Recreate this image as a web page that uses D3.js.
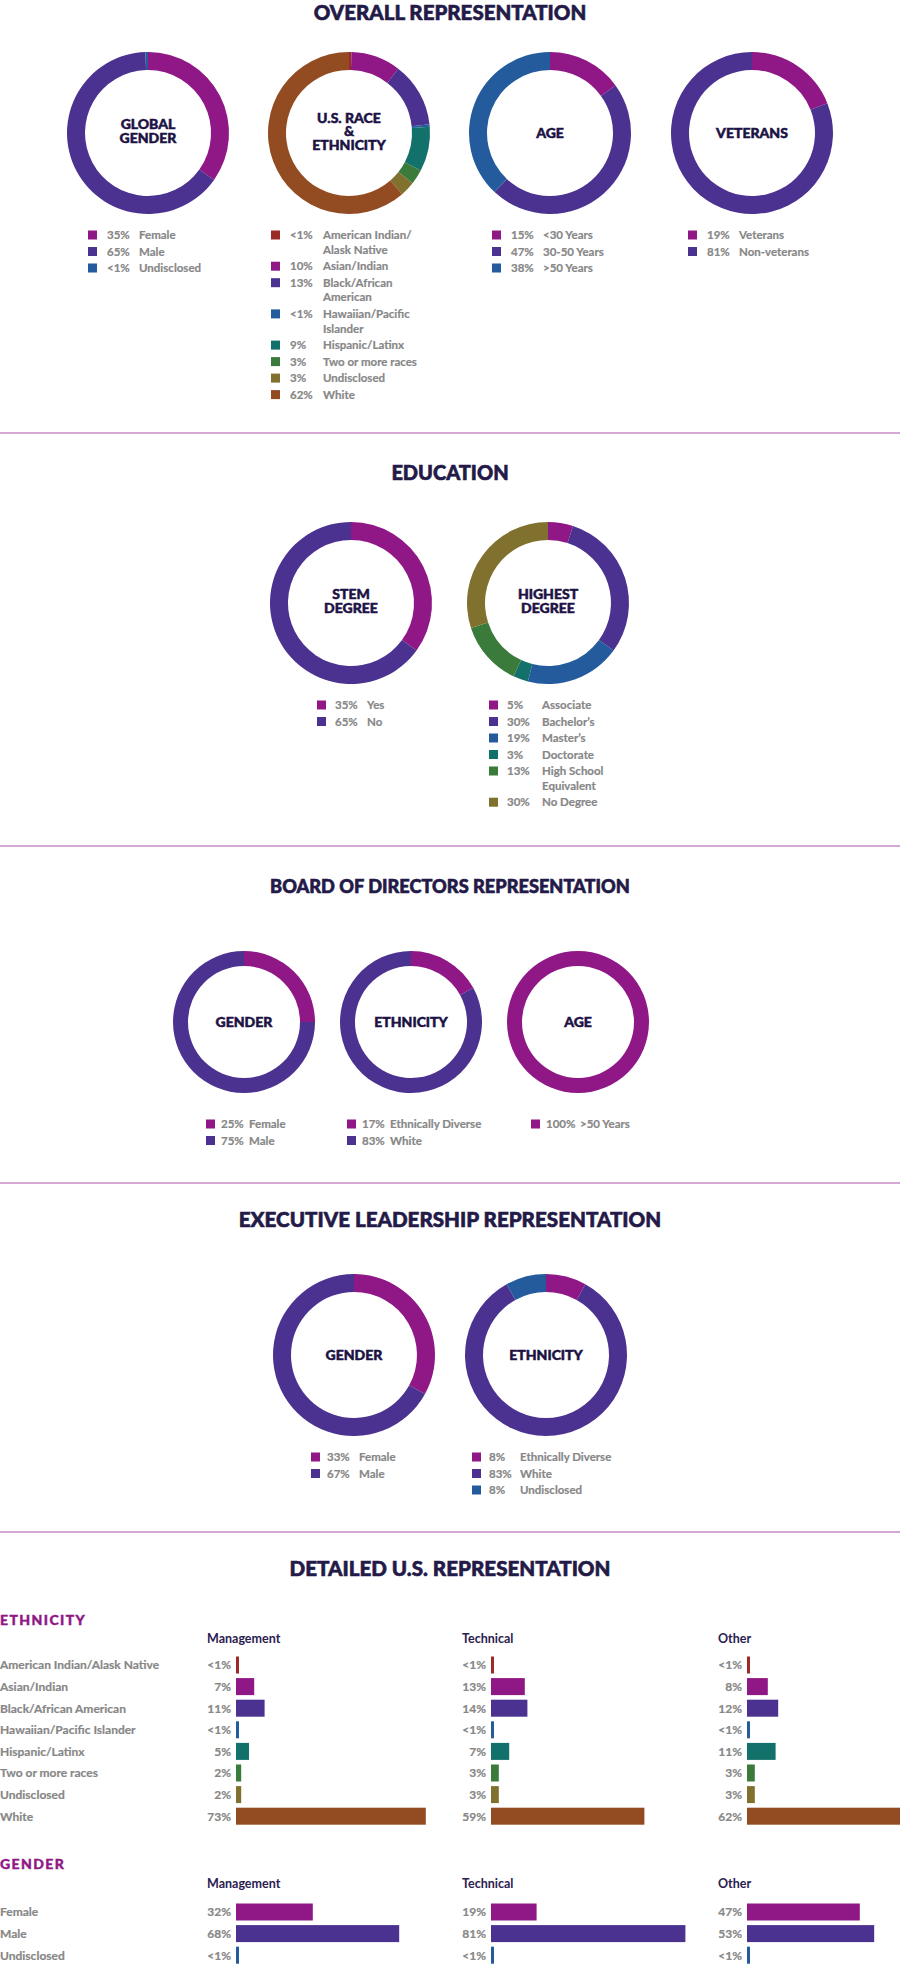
<!DOCTYPE html>
<html>
<head>
<meta charset="utf-8">
<script src="https://cdn.jsdelivr.net/npm/d3@7"></script>
<style>
  body { margin: 0; background: #fff; }
  svg { display: block; font-family: Lato, "Open Sans", sans-serif; }
</style>
</head>
<body>
<svg id="chart" width="900" height="1965"></svg>
<script>
// ---- data ----
var genderCats = ["Female", "Male", "Undisclosed"];
var genderVals = [35, 65, 0.5];

var raceCats = ["American Indian/\nAlask Native", "Asian/Indian", "Black/African\nAmerican", "Hawaiian/Pacific\nIslander",
  "Hispanic/Latinx", "Two or more races", "Undisclosed", "White"];
var raceVals = [0.5, 10, 13, 0.5, 9, 3, 3, 62];

var ageCats = ["<30 Years", "30-50 Years", ">50 Years"];
var ageVals = [15, 47, 38];

var vetCats = ["Veterans", "Non-veterans"];
var vetVals = [19, 81];

var stemCats = ["Yes", "No"];
var stemVals = [35, 65];

var degreeCats = ["Associate", "Bachelor\u2019s", "Master\u2019s", "Doctorate", "High School\nEquivalent", "No Degree"];
var degreeVals = [5, 30, 19, 3, 13, 30];

var boardGenderCats = ["Female", "Male"];
var boardGenderVals = [25, 75];
var boardEthCats = ["Ethnically Diverse", "White"];
var boardEthVals = [17, 83];
var boardAgeCats = [">50 Years"];
var boardAgeVals = [100];

var execGenderCats = ["Female", "Male"];
var execGenderVals = [33, 67];
var execEthCats = ["Ethnically Diverse", "White", "Undisclosed"];
var execEthVals = [8, 83, 8];

var levels = ["Management", "Technical", "Other"];
var ethRows = ["American Indian/Alask Native", "Asian/Indian", "Black/African American", "Hawaiian/Pacific Islander",
  "Hispanic/Latinx", "Two or more races", "Undisclosed", "White"];
var ethMgmt = [0.5, 7, 11, 0.5, 5, 2, 2, 73];
var ethTech = [0.5, 13, 14, 0.5, 7, 3, 3, 59];
var ethOther = [0.5, 8, 12, 0.5, 11, 3, 3, 62];

var genRows = ["Female", "Male", "Undisclosed"];
var genMgmt = [32, 68, 0.5];
var genTech = [19, 81, 0.5];
var genOther = [47, 53, 0.5];

// ---- colours ----
var C = {
  pink: "#8f1786", purple: "#4b3290", blue: "#245b9c", teal: "#12716a",
  green: "#3a7a3b", olive: "#81712f", brown: "#934b22", red: "#9a2b27"
};
var raceColors = [C.red, C.pink, C.purple, C.blue, C.teal, C.green, C.olive, C.brown];
var titleColor = "#231a48";
var labelColor = "#1c1244";
var grey = "#878787";

var svg = d3.select("#chart");

function fmt(v) { return v < 1 ? "<1%" : v + "%"; }

function sectionTitle(text, y, size) {
  svg.append("text")
    .attr("x", 450).attr("y", y)
    .attr("text-anchor", "middle")
    .style("font-size", size + "px").style("font-weight", 900)
    .style("fill", titleColor)
    .style("stroke", titleColor).style("stroke-width", 0.6)
    .text(text);
}

function separator(y) {
  svg.append("line")
    .attr("x1", 0).attr("x2", 900).attr("y1", y).attr("y2", y)
    .style("stroke", "#c98ac3").style("stroke-width", 1.3);
}

function donut(cx, cy, rOut, rIn, title, cats, vals, colors, lg) {
  var g = svg.append("g").attr("transform", "translate(" + cx + "," + cy + ")");
  var data = cats.map(function (c, i) { return { cat: c, v: vals[i], color: colors[i] }; });
  var pie = d3.pie().sort(null).value(function (d) { return d.v; });
  var arc = d3.arc().innerRadius(rIn).outerRadius(rOut);

  g.selectAll("path")
    .data(pie(data))
    .enter()
    .append("path")
    .attr("d", arc)
    .style("fill", function (d) { return d.data.color; });

  var lines = title.split("\n");
  var lh = 13.5;
  var t = g.append("text")
    .attr("text-anchor", "middle")
    .style("font-size", "14px").style("font-weight", 900)
    .style("fill", labelColor)
    .style("stroke", labelColor).style("stroke-width", 0.5);
  lines.forEach(function (l, i) {
    t.append("tspan")
      .attr("x", 0)
      .attr("y", (i - (lines.length - 1) / 2) * lh - (lines.length > 1 ? 2 : 0) + 5)
      .text(l);
  });

  // legend
  var y = lg.y;
  data.forEach(function (d) {
    svg.append("rect")
      .attr("x", lg.sq).attr("y", y - 4.5)
      .attr("width", 9).attr("height", 9)
      .style("fill", d.color);
    svg.append("text")
      .attr("x", lg.pct).attr("y", y + 4)
      .style("font-size", "11.5px").style("font-weight", 700).style("fill", grey)
      .style("stroke", grey).style("stroke-width", 0.2)
      .text(fmt(d.v));
    var ls = d.cat.split("\n");
    var lt = svg.append("text")
      .style("font-size", "11.5px").style("font-weight", 700).style("fill", grey)
      .style("stroke", grey).style("stroke-width", 0.2);
    ls.forEach(function (l, i) {
      lt.append("tspan").attr("x", lg.lab).attr("y", y + 4 + i * 14.7).text(l);
    });
    y += 16.5 + (ls.length - 1) * 14.7;
  });
}

// ---- OVERALL ----
sectionTitle("OVERALL REPRESENTATION", 20, 20.5);
donut(148, 133, 81, 63, "GLOBAL\nGENDER", genderCats, genderVals, [C.pink, C.purple, C.blue], { sq: 88, pct: 107, lab: 139, y: 235 });
donut(349, 133, 81, 63, "U.S. RACE\n&\nETHNICITY", raceCats, raceVals, raceColors, { sq: 271, pct: 290, lab: 323, y: 235 });
donut(550, 133, 81, 63, "AGE", ageCats, ageVals, [C.pink, C.purple, C.blue], { sq: 492, pct: 511, lab: 543, y: 235 });
donut(752, 133, 81, 63, "VETERANS", vetCats, vetVals, [C.pink, C.purple], { sq: 688, pct: 707, lab: 739, y: 235 });
separator(433);

// ---- EDUCATION ----
sectionTitle("EDUCATION", 480, 20);
donut(351, 603, 81, 63, "STEM\nDEGREE", stemCats, stemVals, [C.pink, C.purple], { sq: 317, pct: 335, lab: 367, y: 705 });
donut(548, 603, 81, 63, "HIGHEST\nDEGREE", degreeCats, degreeVals, [C.pink, C.purple, C.blue, C.teal, C.green, C.olive], { sq: 489, pct: 507, lab: 542, y: 705 });
separator(846);

// ---- BOARD ----
sectionTitle("BOARD OF DIRECTORS REPRESENTATION", 893, 18.2);
donut(244, 1022, 71, 56, "GENDER", boardGenderCats, boardGenderVals, [C.pink, C.purple], { sq: 206, pct: 221, lab: 249, y: 1124 });
donut(411, 1022, 71, 56, "ETHNICITY", boardEthCats, boardEthVals, [C.pink, C.purple], { sq: 347, pct: 362, lab: 390, y: 1124 });
donut(578, 1022, 71, 56, "AGE", boardAgeCats, boardAgeVals, [C.pink], { sq: 531, pct: 546, lab: 580, y: 1124 });
separator(1183);

// ---- EXECUTIVE ----
sectionTitle("EXECUTIVE LEADERSHIP REPRESENTATION", 1227, 20.6);
donut(354, 1355, 81, 63, "GENDER", execGenderCats, execGenderVals, [C.pink, C.purple], { sq: 311, pct: 327, lab: 359, y: 1457 });
donut(546, 1355, 81, 63, "ETHNICITY", execEthCats, execEthVals, [C.pink, C.purple, C.blue], { sq: 472, pct: 489, lab: 520, y: 1457 });
separator(1532);

// ---- DETAILED ----
sectionTitle("DETAILED U.S. REPRESENTATION", 1576, 20.6);

var colX = [236, 491, 747];   // bar start of each column
var rowH = 21.6, barH = 17;

function barGroup(name, nameY, headY, rowY0, rows, cols, colors, pxPerPct) {
  svg.append("text")
    .attr("x", 0).attr("y", nameY)
    .style("font-size", "14px").style("font-weight", 900)
    .style("letter-spacing", "1.4px")
    .style("fill", C.pink)
    .style("stroke", C.pink).style("stroke-width", 0.4)
    .text(name);

  var y = d3.scaleBand().domain(rows).range([rowY0, rowY0 + rows.length * rowH]);
  var x = d3.scaleLinear().domain([0, 100]).range([0, 100 * pxPerPct]);

  svg.append("g").selectAll("text")
    .data(rows).enter().append("text")
    .attr("x", 0)
    .attr("y", function (d) { return y(d) + y.bandwidth() / 2 + 4.3; })
    .style("font-size", "12px").style("font-weight", 700).style("fill", grey)
    .style("stroke", grey).style("stroke-width", 0.2)
    .text(function (d) { return d; });

  cols.forEach(function (vals, ci) {
    var x0 = colX[ci];
    svg.append("text")
      .attr("x", x0 - 29).attr("y", headY)
      .style("font-size", "12.5px").style("font-weight", 700).style("fill", "#2a2050")
      .text(levels[ci]);

    var g = svg.append("g").attr("transform", "translate(" + x0 + ",0)");
    g.selectAll("rect")
      .data(vals).enter().append("rect")
      .attr("x", 0)
      .attr("y", function (d, i) { return y(rows[i]) + (y.bandwidth() - barH) / 2; })
      .attr("width", function (d) { return Math.max(3, x(d)); })
      .attr("height", barH)
      .style("fill", function (d, i) { return colors[i]; });
    g.selectAll("text")
      .data(vals).enter().append("text")
      .attr("x", -5)
      .attr("y", function (d, i) { return y(rows[i]) + y.bandwidth() / 2 + 4.3; })
      .attr("text-anchor", "end")
      .style("font-size", "12px").style("font-weight", 700).style("fill", grey)
      .style("stroke", grey).style("stroke-width", 0.2)
      .text(function (d) { return fmt(d); });
  });
}

barGroup("ETHNICITY", 1625, 1643, 1654.2, ethRows, [ethMgmt, ethTech, ethOther], raceColors, 2.6);
barGroup("GENDER", 1869, 1888, 1901.2, genRows, [genMgmt, genTech, genOther], [C.pink, C.purple, C.blue], 2.4);
</script>
</body>
</html>
